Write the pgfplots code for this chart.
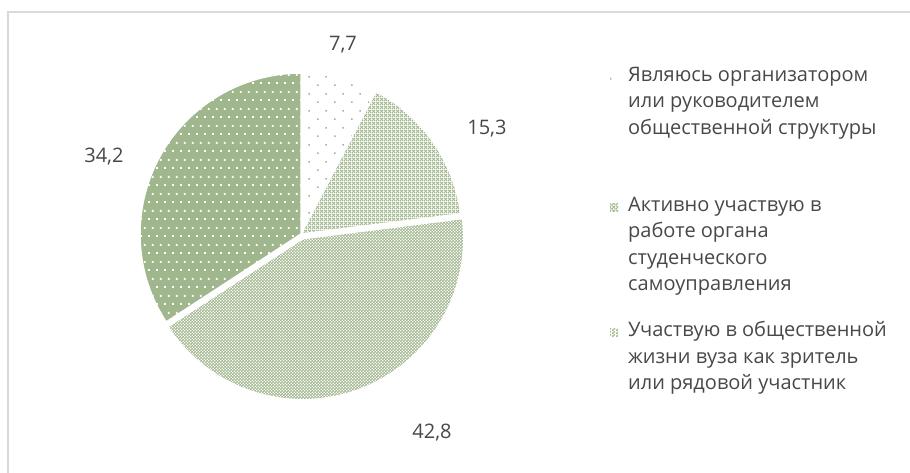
\documentclass[border=0pt]{standalone}
\usepackage{pgfplots}
\pgfplotsset{compat=1.18}
\usepackage{fontspec}
\setmainfont{Open Sans}
\usetikzlibrary{patterns.meta}
\definecolor{pgreen}{RGB}{160,182,140}
\definecolor{tgray}{RGB}{72,72,72}
\definecolor{framegray}{RGB}{217,217,217}

% sparse staggered dots (slice 1, on white)
\pgfdeclarepattern{
  name=sparsedots, type=uncolored,
  bottom left={\pgfpoint{0pt}{0pt}}, top right={\pgfpoint{16.7pt}{16.7pt}},
  tile size={\pgfpoint{16.7pt}{16.7pt}},
  code={\pgfpathrectangle{\pgfpoint{0pt}{0pt}}{\pgfpoint{1.7pt}{1.7pt}}
        \pgfpathrectangle{\pgfpoint{8.35pt}{8.35pt}}{\pgfpoint{1.7pt}{1.7pt}}
        \pgfusepath{fill}}}
% denser staggered dots (slice 4, white on green)
\pgfdeclarepattern{
  name=meddots, type=uncolored,
  bottom left={\pgfpoint{0pt}{0pt}}, top right={\pgfpoint{8.35pt}{16.7pt}},
  tile size={\pgfpoint{8.35pt}{16.7pt}},
  code={\pgfpathrectangle{\pgfpoint{0pt}{0pt}}{\pgfpoint{1.9pt}{1.9pt}}
        \pgfpathrectangle{\pgfpoint{4.17pt}{8.35pt}}{\pgfpoint{1.9pt}{1.9pt}}
        \pgfusepath{fill}}}
% diamond lattice (slice 2)
\pgfdeclarepattern{
  name=diamondlat, type=uncolored,
  bottom left={\pgfpoint{0pt}{0pt}}, top right={\pgfpoint{4pt}{4pt}},
  tile size={\pgfpoint{4pt}{4pt}},
  code={\pgfsetlinewidth{1.05pt}
        \pgfpathmoveto{\pgfpoint{0pt}{0pt}}\pgfpathlineto{\pgfpoint{4pt}{4pt}}
        \pgfpathmoveto{\pgfpoint{0pt}{4pt}}\pgfpathlineto{\pgfpoint{4pt}{0pt}}
        \pgfusepath{stroke}}}
% small checker (slice 3)
\pgfdeclarepattern{
  name=checker, type=uncolored,
  bottom left={\pgfpoint{0pt}{0pt}}, top right={\pgfpoint{3.4pt}{3.4pt}},
  tile size={\pgfpoint{3.4pt}{3.4pt}},
  code={\pgfpathrectangle{\pgfpoint{0pt}{0pt}}{\pgfpoint{1.9pt}{1.9pt}}
        \pgfpathrectangle{\pgfpoint{1.7pt}{1.7pt}}{\pgfpoint{1.7pt}{1.7pt}}
        \pgfusepath{fill}}}

% data (percent)
\def\vA{7.7}
\def\vB{15.3}
\def\vC{42.8}
\def\vD{34.2}
\pgfmathsetmacro\aA{90}
\pgfmathsetmacro\aB{\aA-3.6*\vA}
\pgfmathsetmacro\aC{\aB-3.6*\vB}
\pgfmathsetmacro\aD{\aC-3.6*\vC}
\pgfmathsetmacro\aE{\aD-3.6*\vD}
\pgfmathsetmacro\mC{(\aC+\aD)/2}
\def\R{161pt}

\newcommand{\lfont}{\fontsize{20}{26.5}\selectfont}

\begin{document}
\begin{tikzpicture}
\useasboundingbox (0,0) rectangle (910pt,472pt);
\draw[framegray, line width=2pt] (7.7pt,-2pt) -- (7.7pt,459.8pt) -- (912pt,459.8pt);
\begin{axis}[
  scale only axis, width=322pt, height=322pt,
  xmin=-1, xmax=1, ymin=-1, ymax=1,
  hide axis, clip=false,
  at={(301pt,238pt)}, anchor=center,
  legend image code/.code={\fill[#1, draw=none] (0pt,0pt) rectangle (8pt,8pt);},
  legend style={at={(axis cs:1.919,1.0435)}, anchor=north west, draw=none, fill=none,
    inner sep=0pt, row sep=0pt, column sep=10pt, font=\lfont, text=tgray,
    cells={anchor=base west}, nodes={inner sep=0pt, text depth=}},
]
% slices (clockwise from 12 o'clock)
\path[preaction={fill=white}, pattern=sparsedots, pattern color=pgreen, draw=white, line width=1.5pt]
  (axis cs:0,0) -- ++(\aA:\R) arc[start angle=\aA, end angle=\aB, radius=\R] -- cycle;
\path[preaction={fill=white}, pattern=diamondlat, pattern color=pgreen, draw=white, line width=1.5pt]
  (axis cs:0,0) -- ++(\aB:\R) arc[start angle=\aB, end angle=\aC, radius=\R] -- cycle;
\path[shift={(\mC:5pt)}, preaction={fill=white}, pattern=checker, pattern color=pgreen, draw=white, line width=1.5pt]
  (axis cs:0,0) -- ++(\aC:\R) arc[start angle=\aC, end angle=\aD, radius=\R] -- cycle;
\path[preaction={fill=pgreen}, pattern=meddots, pattern color=white, draw=white, line width=1.5pt]
  (axis cs:0,0) -- ++(\aD:\R) arc[start angle=\aD, end angle=\aE, radius=\R] -- cycle;
% value labels
\node[font=\lfont, text=tgray] at (axis cs:0.261,1.174) {7,7};
\node[font=\lfont, text=tgray] at (axis cs:1.155,0.658) {15,3};
\node[font=\lfont, text=tgray] at (axis cs:0.814,-1.236) {42,8};
\node[font=\lfont, text=tgray] at (axis cs:-1.224,0.478) {34,2};
% legend
\addlegendimage{draw=none, preaction={fill=white}, pattern=sparsedots, pattern color=pgreen}
\addlegendentry{\parbox[t]{290pt}{\rule{0pt}{15pt}Являюсь организатором\\или руководителем\\общественной структуры\rule[-62pt]{0pt}{0pt}}}
\addlegendimage{draw=none, preaction={fill=white}, pattern=diamondlat, pattern color=pgreen}
\addlegendentry{\parbox[t]{290pt}{\rule{0pt}{15pt}Активно участвую в\\работе органа\\студенческого\\самоуправления\rule[-30.5pt]{0pt}{0pt}}}
\addlegendimage{draw=none, preaction={fill=white}, pattern=checker, pattern color=pgreen}
\addlegendentry{\parbox[t]{290pt}{\rule{0pt}{15pt}Участвую в общественной\\жизни вуза как зритель\\или рядовой участник}}
\end{axis}
\end{tikzpicture}
\end{document}
